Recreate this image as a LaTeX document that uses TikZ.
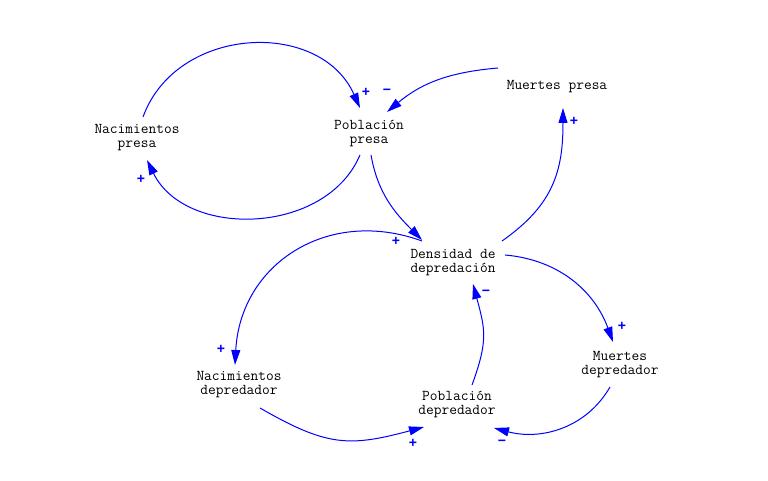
\documentclass[tikz,border=0pt]{standalone}
\usepackage{fontspec}
\newfontfamily\signfont{Liberation Sans}
\usetikzlibrary{arrows.meta}

\begin{document}
\begin{tikzpicture}[x=1pt,y=1pt,
  var/.style={font=\ttfamily\fontsize{15}{14}\selectfont, align=center, inner sep=0pt},
  link/.style={draw=blue, line width=1pt, -{Triangle[length=15pt,width=9pt]}},
  sign/.style={font=\signfont\bfseries\fontsize{14}{14}\selectfont, text=blue, inner sep=0pt}]
  \useasboundingbox (0,0) rectangle (768,481);

  % Variables
  \node[var] (np) at (137,343) {Nacimientos\\presa};
  \node[var] (pp) at (369,348) {Población\\presa};
  \node[var] (mp) at (557,394) {Muertes presa};
  \node[var] (dd) at (453,218) {Densidad de\\depredación};
  \node[var] (nd) at (239,96) {Nacimientos\\depredador};
  \node[var] (pd) at (457,77) {Población\\depredador};
  \node[var] (md) at (620,116) {Muertes\\depredador};

  % Prey loops
  \draw[link] ([shift={(6,21)}]np.center) to[out=70,in=114,looseness=1.15] ([shift={(-9,25)}]pp.center);
  \draw[link] ([shift={(-9,-22)}]pp.center) to[out=-113,in=-64,looseness=1.05] ([shift={(10,-22)}]np.center);
  \draw[link] ([shift={(-59,19)}]mp.center) to[out=185,in=40] ([shift={(18,21)}]pp.center);
  \draw[link] ([shift={(2,-22)}]pp.center) to[out=-80,in=135] ([shift={(-31,23)}]dd.center);
  \draw[link] ([shift={(49,22)}]dd.center) to[out=35,in=-90,looseness=1.1] ([shift={(6,-21)}]mp.center);

  % Predator loops
  \draw[link] ([shift={(-31,22)}]dd.center) to[out=160,in=87,looseness=1.15] ([shift={(-4,20)}]nd.center);
  \draw[link] ([shift={(21,-23)}]nd.center) to[out=-30,in=195,looseness=1.2] ([shift={(-33,-23)}]pd.center);
  \draw[link] ([shift={(15,19)}]pd.center) to[out=70,in=-75,looseness=1.2] ([shift={(20,-21)}]dd.center);
  \draw[link] ([shift={(52,8)}]dd.center) to[out=-5,in=110] ([shift={(-7,23)}]md.center);
  \draw[link] ([shift={(-10,-22)}]md.center) to[out=-120,in=-15] ([shift={(37,-24)}]pd.center);

  % Polarity signs
  \node[sign] (s1) at (366,389) {+};
  \node[sign] (s2) at (387,389) {−};
  \node[sign] (s3) at (141,302) {+};
  \node[sign] (s4) at (396,240) {+};
  \node[sign] (s5) at (574,360) {+};
  \node[sign] (s6) at (221,132) {+};
  \node[sign] (s7) at (413,38) {+};
  \node[sign] (s8) at (486,188) {−};
  \node[sign] (s9) at (622,155) {+};
  \node[sign] (s10) at (502,38) {−};

\end{tikzpicture}
\end{document}
